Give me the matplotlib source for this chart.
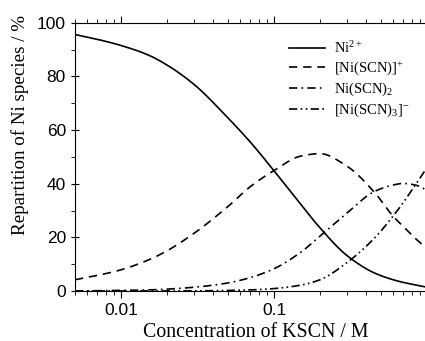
import matplotlib
matplotlib.use('Agg')
import matplotlib.pyplot as plt
import numpy as np

plt.rcParams['font.family'] = 'Liberation Serif'
plt.rcParams['mathtext.fontset'] = 'custom'
plt.rcParams['mathtext.rm'] = 'Liberation Serif'
plt.rcParams['mathtext.it'] = 'Liberation Serif:italic'

# KSCN concentration / M
conc = [0.005, 0.007, 0.01, 0.015, 0.02, 0.03, 0.05, 0.07, 0.1, 0.15,
        0.2, 0.3, 0.45, 0.6, 0.7, 0.85, 1.0]
# repartition of Ni species / %
ni = [95.6, 93.8, 91.5, 88.0, 84.2, 77.0, 64.5, 55.5, 44.8, 32.2,
      23.5, 13.2, 6.8, 4.2, 3.2, 2.2, 1.4]
ni_scn = [4.2, 5.8, 7.9, 11.5, 15.0, 21.5, 31.5, 38.9, 44.9, 50.3,
          51.2, 46.5, 37.0, 27.9, 24.0, 19.3, 15.8]
ni_scn2 = [0.0, 0.1, 0.2, 0.4, 0.7, 1.4, 3.0, 5.0, 8.3, 14.5,
           20.5, 29.0, 37.0, 39.5, 40.1, 39.4, 37.5]
ni_scn3 = [0.0, 0.0, 0.0, 0.0, 0.0, 0.05, 0.2, 0.4, 0.9, 2.2,
           4.2, 10.6, 19.5, 27.9, 33.0, 40.0, 46.0]

labels = [r'Ni$^{2+}$', r'[Ni(SCN)]$^{+}$', r'Ni(SCN)$_2$', r'[Ni(SCN)$_3$]$^{-}$']
series = [ni, ni_scn, ni_scn2, ni_scn3]
dashes = [None, (5, 3.5), (5, 2.5, 1, 2.5), (5, 2, 1, 2, 1, 2)]


def pchip(x, y, xn):
    # monotone cubic through the read points, so the curves look smooth
    x = np.asarray(x, float)
    y = np.asarray(y, float)
    h = np.diff(x)
    d = np.diff(y) / h
    m = np.zeros_like(y)
    for k in range(1, len(x) - 1):
        if d[k - 1] * d[k] > 0:
            w1 = 2 * h[k] + h[k - 1]
            w2 = h[k] + 2 * h[k - 1]
            m[k] = (w1 + w2) / (w1 / d[k - 1] + w2 / d[k])
    m[0] = d[0]
    m[-1] = d[-1]
    idx = np.clip(np.searchsorted(x, xn) - 1, 0, len(x) - 2)
    t = (xn - x[idx]) / h[idx]
    h00 = 2 * t**3 - 3 * t**2 + 1
    h10 = t**3 - 2 * t**2 + t
    h01 = -2 * t**3 + 3 * t**2
    h11 = t**3 - t**2
    return (h00 * y[idx] + h10 * h[idx] * m[idx] + h01 * y[idx + 1]
            + h11 * h[idx] * m[idx + 1])


fig = plt.figure(figsize=(4.25, 3.41), dpi=100)
# axes runs slightly past the right edge (picture is cropped there)
ax = fig.add_axes([75 / 425, 50 / 341, 352 / 425, 268.3 / 341])

lx = np.log10(conc)
x_smooth = np.linspace(lx[0], lx[-1], 400)
for y, lab, d in zip(series, labels, dashes):
    ys = pchip(lx, y, x_smooth)
    line, = ax.plot(10**x_smooth, ys, color='black', lw=1.2, label=lab)
    if d is not None:
        line.set_dashes(d)

ax.set_xscale('log')
ax.set_xlim(0.005, 1.0)
ax.set_ylim(0, 100)
ax.set_xticks([0.01, 0.1, 1])
ax.set_xticklabels(['0.01', '0.1', ''])
ax.set_yticks([0, 20, 40, 60, 80, 100])
ax.set_yticks([10, 30, 50, 70, 90], minor=True)
ax.spines['right'].set_visible(False)

ax.tick_params(axis='x', which='both', direction='out', top=True)
ax.tick_params(axis='x', which='major', length=5, width=0.8)
ax.tick_params(axis='x', which='minor', length=3, width=0.6)
ax.tick_params(axis='y', which='major', direction='inout', length=6, width=0.8)
ax.tick_params(axis='y', which='minor', direction='out', length=3, width=0.6)
for lab in ax.get_xticklabels() + ax.get_yticklabels():
    lab.set_family('Liberation Sans')
    lab.set_fontsize(12.5)

ax.set_xlabel('Concentration of KSCN / M', fontsize=14.3)
ax.xaxis.set_label_coords((256 - 75) / 352, -(323 - 291) / 268.3)
ax.set_ylabel('Repartition of Ni species / %', fontsize=13.7)
ax.yaxis.set_label_coords(-(75 - 29) / 352, (291 - 125) / 268.3)

ax.legend(loc='upper left', bbox_to_anchor=(289 / 425, 1 - 40 / 341),
          bbox_transform=fig.transFigure, frameon=False, fontsize=10.5,
          borderpad=0, borderaxespad=0, handlelength=2.5, handletextpad=0.6,
          labelspacing=0.25)

fig.savefig('out.png', dpi=100)
